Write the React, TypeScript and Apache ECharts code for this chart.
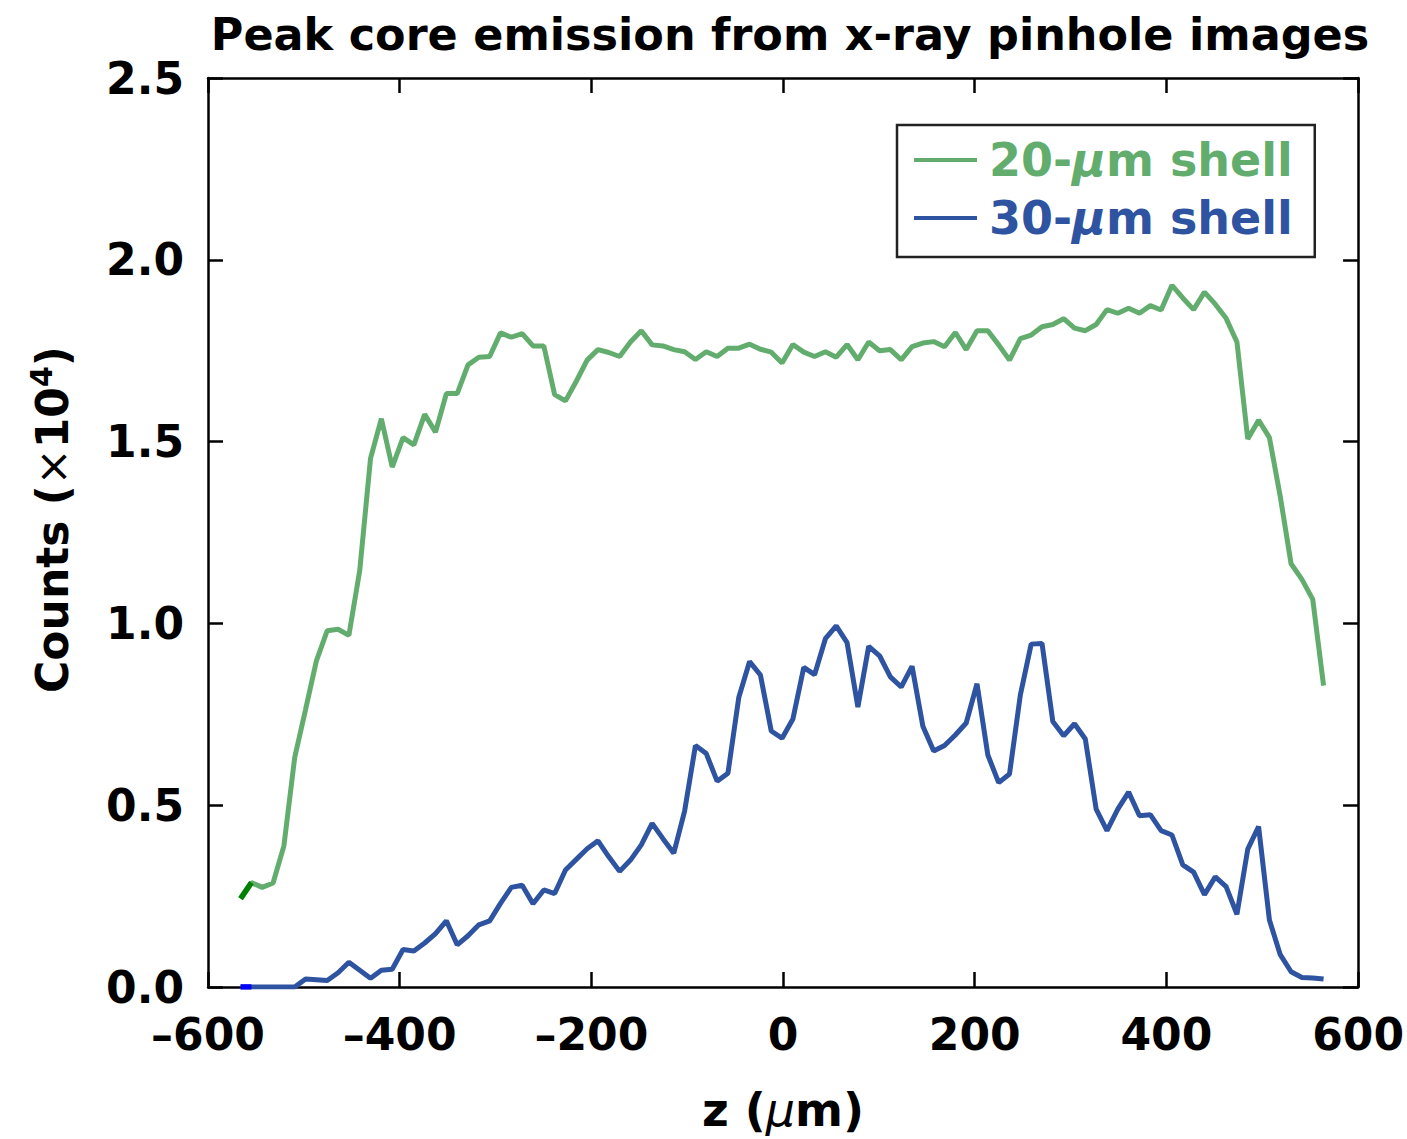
import React, { useEffect, useRef } from "react";
import * as echarts from "echarts";

const titleText = "Peak core emission from x-ray pinhole images";
const seriesNames = ["20-μm shell", "30-μm shell"];
const seriesColors = ["#62ad6e", "#2e53a0"];
const firstSegColors = ["#008000", "#0000ff"];

const zValues = [
  -566, -554.7, -543.4, -532.1, -520.8, -509.5, -498.2, -486.9, -475.6, -464.3,
  -453, -441.7, -430.4, -419.1, -407.8, -396.5, -385.2, -373.9, -362.6, -351.3,
  -340, -328.7, -317.4, -306.1, -294.8, -283.5, -272.2, -260.9, -249.6, -238.3,
  -227, -215.7, -204.4, -193.1, -181.8, -170.5, -159.2, -147.9, -136.6, -125.3,
  -114, -102.7, -91.4, -80.1, -68.8, -57.5, -46.2, -34.9, -23.6, -12.3,
  -1, 10.3, 21.6, 32.9, 44.2, 55.5, 66.8, 78.1, 89.4, 100.7,
  112, 123.3, 134.6, 145.9, 157.2, 168.5, 179.8, 191.1, 202.4, 213.7,
  225, 236.3, 247.6, 258.9, 270.2, 281.5, 292.8, 304.1, 315.4, 326.7,
  338, 349.3, 360.6, 371.9, 383.2, 394.5, 405.8, 417.1, 428.4, 439.7,
  451, 462.3, 473.6, 484.9, 496.2, 507.5, 518.8, 530.1, 541.4, 552.7,
  564,
];

const shell20 = [
  0.243, 0.287, 0.274, 0.286, 0.388, 0.632, 0.763, 0.897, 0.98, 0.984,
  0.967, 1.145, 1.454, 1.563, 1.43, 1.511, 1.491, 1.575, 1.526, 1.632,
  1.632, 1.711, 1.732, 1.734, 1.799, 1.787, 1.797, 1.763, 1.763, 1.629,
  1.612, 1.666, 1.724, 1.753, 1.745, 1.734, 1.774, 1.805, 1.766, 1.763,
  1.753, 1.747, 1.726, 1.747, 1.734, 1.757, 1.757, 1.768, 1.754, 1.746,
  1.716, 1.767, 1.746, 1.734, 1.747, 1.732, 1.767, 1.725, 1.774, 1.75,
  1.753, 1.725, 1.761, 1.771, 1.775, 1.761, 1.8, 1.753, 1.805, 1.805,
  1.766, 1.724, 1.783, 1.793, 1.816, 1.822, 1.838, 1.812, 1.805, 1.822,
  1.863, 1.853, 1.867, 1.853, 1.874, 1.862, 1.93, 1.895, 1.863, 1.911,
  1.878, 1.839, 1.774, 1.507, 1.559, 1.511, 1.349, 1.164, 1.121, 1.066,
  0.829,
];

const shell30 = [
  0.0, 0.0, 0.0, 0.0, 0.0, 0.0, 0.022, 0.02, 0.018, 0.039,
  0.068, 0.046, 0.024, 0.046, 0.049, 0.103, 0.099, 0.121, 0.147, 0.182,
  0.116, 0.141, 0.171, 0.182, 0.23, 0.274, 0.28, 0.229, 0.267, 0.257,
  0.322, 0.351, 0.38, 0.402, 0.358, 0.318, 0.349, 0.391, 0.45, 0.408,
  0.368, 0.484, 0.664, 0.642, 0.566, 0.588, 0.796, 0.895, 0.858, 0.704,
  0.684, 0.737, 0.879, 0.859, 0.958, 0.993, 0.947, 0.77, 0.937, 0.911,
  0.853, 0.825, 0.882, 0.717, 0.649, 0.664, 0.693, 0.726, 0.834, 0.638,
  0.562, 0.586, 0.803, 0.943, 0.945, 0.73, 0.691, 0.724, 0.682, 0.489,
  0.43, 0.489, 0.536, 0.471, 0.474, 0.43, 0.418, 0.336, 0.316, 0.254,
  0.303, 0.276, 0.2, 0.379, 0.441, 0.184, 0.089, 0.042, 0.026, 0.025,
  0.022,
];

const xTicks = { min: -600, max: 600, interval: 200 };
const yTicks = { min: 0, max: 2.5, interval: 0.5 };

const FONT = "'DejaVu Sans', 'Liberation Sans', Arial, sans-serif";

export default function App() {
  const ref = useRef<HTMLDivElement>(null);

  useEffect(() => {
    if (!ref.current) return;
    const chart = echarts.init(ref.current, undefined, { renderer: "svg" });
    const pairs = (ys: number[]) => zValues.map((z, i) => [z, ys[i]]);
    const allSeries = [shell20, shell30];

    const axisLine = { show: true, onZero: false, lineStyle: { color: "#000", width: 2.5 } };
    const axisTick = { show: true, inside: true, length: 15, lineStyle: { color: "#000", width: 2.5 } };

    const option: any = {
      animation: false,
      backgroundColor: "#fff",
      title: {
        text: titleText,
        left: 785,
        textAlign: "center",
        top: 7,
        textStyle: { fontFamily: FONT, fontWeight: "bold", fontSize: 44.5, color: "#000" },
      },
      legend: {
        show: true,
        orient: "vertical",
        left: 897,
        top: 125,
        padding: [12, 22, 16, 17],
        itemGap: 12,
        backgroundColor: "#fff",
        borderColor: "#222",
        borderWidth: 2.5,
        icon: "rect",
        itemWidth: 63,
        itemHeight: 4,
        data: seriesNames,
        formatter: (name: string) =>
          name.startsWith("20") ? "{g|20-}{gi|μ}{g|m shell}" : "{b|30-}{bi|μ}{b|m shell}",
        textStyle: {
          fontFamily: FONT,
          fontWeight: "bold",
          fontSize: 46,
          padding: [0, 0, 0, 7],
          rich: {
            g: { color: seriesColors[0], fontFamily: FONT, fontWeight: "bold", fontSize: 46 },
            gi: { color: seriesColors[0], fontFamily: FONT, fontStyle: "italic", fontSize: 46 },
            b: { color: seriesColors[1], fontFamily: FONT, fontWeight: "bold", fontSize: 46 },
            bi: { color: seriesColors[1], fontFamily: FONT, fontStyle: "italic", fontSize: 46 },
          },
        },
      },
      grid: { left: 208, right: 45, top: 78, bottom: 152, containLabel: false },
      xAxis: [
        {
          type: "value",
          position: "bottom",
          ...xTicks,
          axisLine,
          axisTick,
          splitLine: { show: false },
          axisLabel: {
            margin: 25,
            fontFamily: FONT,
            fontWeight: "bold",
            fontSize: 44,
            color: "#000",
            formatter: (v: number) => (v < 0 ? "\u2013" + Math.abs(v) : String(v)),
          },
          name: "{a|z (}{i|μ}{a|m)}",
          nameLocation: "middle",
          nameGap: 100,
          nameTextStyle: {
            rich: {
              a: { fontFamily: FONT, fontWeight: "bold", fontSize: 46, color: "#000" },
              i: { fontFamily: FONT, fontStyle: "italic", fontSize: 46, color: "#000" },
            },
          },
        },
        {
          type: "value",
          position: "top",
          ...xTicks,
          axisLine,
          axisTick,
          splitLine: { show: false },
          axisLabel: { show: false },
        },
      ],
      yAxis: [
        {
          type: "value",
          position: "left",
          ...yTicks,
          axisLine,
          axisTick,
          splitLine: { show: false },
          axisLabel: {
            margin: 24,
            fontFamily: FONT,
            fontWeight: "bold",
            fontSize: 44,
            color: "#000",
            formatter: (v: number) => v.toFixed(1),
          },
          name: "{a|Counts (}{x|×}{a|10}{s|4}{a|)}",
          nameLocation: "middle",
          nameGap: 130,
          nameTextStyle: {
            padding: [0, 0, 0, 26],
            rich: {
              a: { fontFamily: FONT, fontWeight: "bold", fontSize: 44, color: "#000" },
              x: { fontFamily: FONT, fontSize: 44, color: "#000" },
              s: { fontFamily: FONT, fontWeight: "bold", fontSize: 30, color: "#000", verticalAlign: "top", padding: [0, 0, 22, 0] },
            },
          },
        },
        {
          type: "value",
          position: "right",
          ...yTicks,
          axisLine,
          axisTick,
          splitLine: { show: false },
          axisLabel: { show: false },
        },
      ],
      series: [
        ...allSeries.map((ys, k) => ({
          name: seriesNames[k],
          type: "line",
          data: pairs(ys),
          showSymbol: false,
          symbol: "none",
          color: seriesColors[k],
          lineStyle: { color: seriesColors[k], width: 5 },
          z: 3,
        })),
        ...allSeries.map((ys, k) => ({
          name: "start-" + k,
          type: "line",
          data: pairs(ys).slice(0, 2),
          showSymbol: false,
          symbol: "none",
          lineStyle: { color: firstSegColors[k], width: 5.5 },
          z: 4,
        })),
      ],
    };
    chart.setOption(option);
    return () => chart.dispose();
  }, []);

  return (
    <div
      ref={ref}
      style={{ position: "fixed", left: 0, top: 0, width: 1407, height: 1139 }}
    />
  );
}
